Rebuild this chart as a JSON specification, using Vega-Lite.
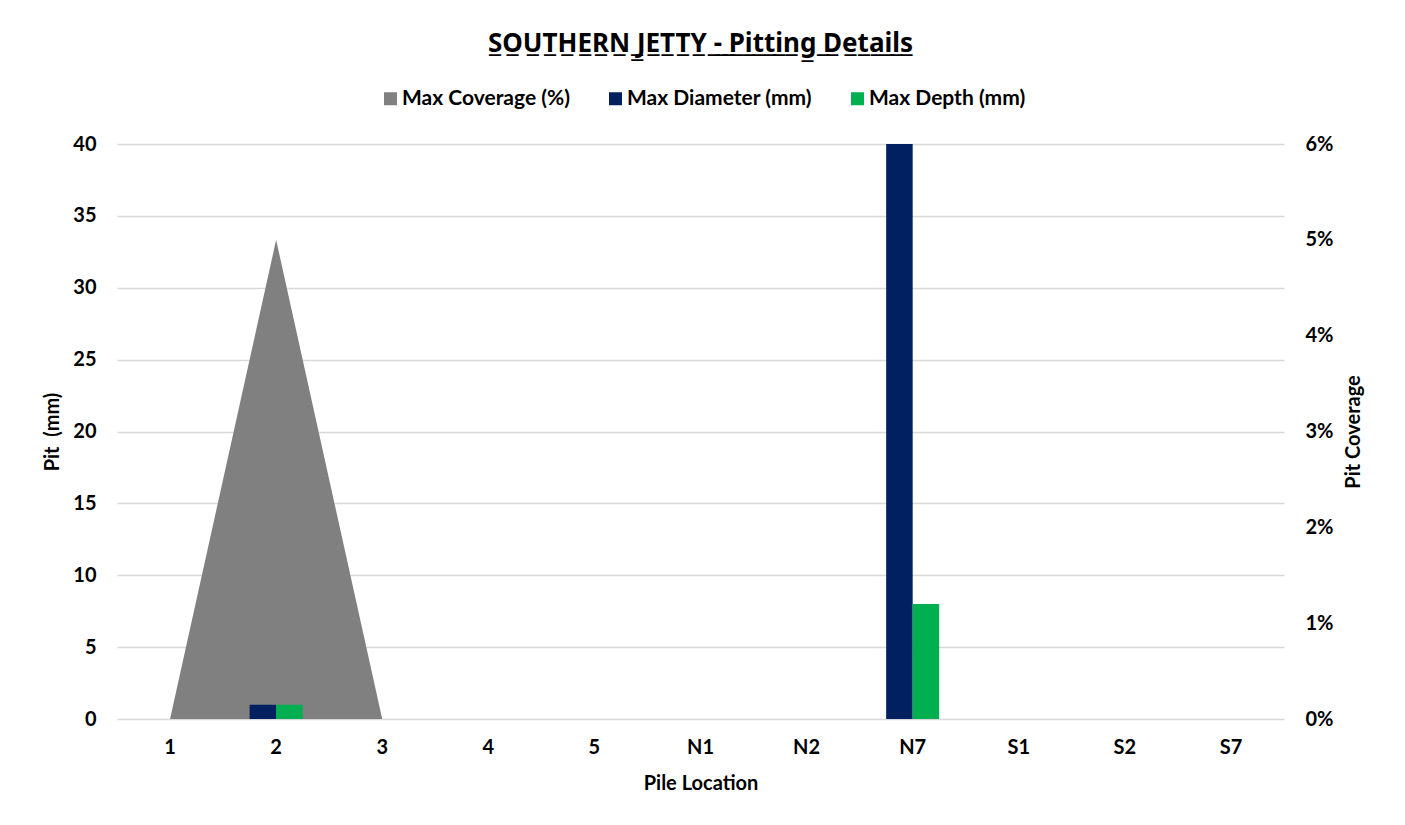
{
  "$schema": "https://vega.github.io/schema/vega-lite/v6.json",
  "width": 1167,
  "height": 575,
  "autosize": {"type": "none"},
  "padding": {"left": 117, "top": 144, "right": 121, "bottom": 106},
  "background": "white",
  "title": {
    "text": "S̲O̲U̲T̲H̲E̲R̲N̲ ̲J̲E̲T̲T̲Y̲ ̲-̲ ̲P̲i̲t̲t̲i̲n̲g̲ ̲D̲e̲t̲a̲i̲l̲s̲",
    "font": "Noto Sans",
    "fontSize": 26,
    "fontWeight": "bold",
    "color": "#000000",
    "anchor": "middle",
    "frame": "group",
    "offset": 31
  },
  "config": {
    "view": {"stroke": null},
    "font": "Lato",
    "axis": {
      "labelFont": "Lato",
      "labelFontSize": 20,
      "labelFontWeight": "bold",
      "labelColor": "#000000",
      "titleFont": "Lato",
      "titleFontSize": 20,
      "titleFontWeight": "bold",
      "titleColor": "#000000",
      "ticks": false,
      "domain": false,
      "gridColor": "#d9d9d9",
      "gridWidth": 1.5
    },
    "legend": {
      "labelFont": "Lato",
      "labelFontSize": 21,
      "labelFontWeight": "bold",
      "labelColor": "#000000",
      "labelLimit": 400,
      "symbolType": "square",
      "symbolSize": 169,
      "symbolStrokeWidth": 0
    }
  },
  "data": {
    "values": [
      {"pile": "1", "series": "Max Coverage (%)", "value": 0},
      {"pile": "2", "series": "Max Coverage (%)", "value": 0.05},
      {"pile": "3", "series": "Max Coverage (%)", "value": 0},
      {"pile": "4", "series": "Max Coverage (%)", "value": 0},
      {"pile": "5", "series": "Max Coverage (%)", "value": 0},
      {"pile": "N1", "series": "Max Coverage (%)", "value": 0},
      {"pile": "N2", "series": "Max Coverage (%)", "value": 0},
      {"pile": "N7", "series": "Max Coverage (%)", "value": 0},
      {"pile": "S1", "series": "Max Coverage (%)", "value": 0},
      {"pile": "S2", "series": "Max Coverage (%)", "value": 0},
      {"pile": "S7", "series": "Max Coverage (%)", "value": 0},
      {"pile": "1", "series": "Max Diameter (mm)", "value": 0},
      {"pile": "2", "series": "Max Diameter (mm)", "value": 1},
      {"pile": "3", "series": "Max Diameter (mm)", "value": 0},
      {"pile": "4", "series": "Max Diameter (mm)", "value": 0},
      {"pile": "5", "series": "Max Diameter (mm)", "value": 0},
      {"pile": "N1", "series": "Max Diameter (mm)", "value": 0},
      {"pile": "N2", "series": "Max Diameter (mm)", "value": 0},
      {"pile": "N7", "series": "Max Diameter (mm)", "value": 40},
      {"pile": "S1", "series": "Max Diameter (mm)", "value": 0},
      {"pile": "S2", "series": "Max Diameter (mm)", "value": 0},
      {"pile": "S7", "series": "Max Diameter (mm)", "value": 0},
      {"pile": "1", "series": "Max Depth (mm)", "value": 0},
      {"pile": "2", "series": "Max Depth (mm)", "value": 1},
      {"pile": "3", "series": "Max Depth (mm)", "value": 0},
      {"pile": "4", "series": "Max Depth (mm)", "value": 0},
      {"pile": "5", "series": "Max Depth (mm)", "value": 0},
      {"pile": "N1", "series": "Max Depth (mm)", "value": 0},
      {"pile": "N2", "series": "Max Depth (mm)", "value": 0},
      {"pile": "N7", "series": "Max Depth (mm)", "value": 8},
      {"pile": "S1", "series": "Max Depth (mm)", "value": 0},
      {"pile": "S2", "series": "Max Depth (mm)", "value": 0},
      {"pile": "S7", "series": "Max Depth (mm)", "value": 0}
    ]
  },
  "encoding": {
    "x": {
      "field": "pile",
      "type": "nominal",
      "sort": null,
      "scale": {"paddingInner": 0, "paddingOuter": 0},
      "axis": {
        "title": "Pile Location",
        "labelAngle": 0,
        "labelPadding": 18,
        "titlePadding": 16,
        "grid": false
      }
    }
  },
  "layer": [
    {
      "transform": [{"filter": "datum.series !== 'Max Coverage (%)'"}],
      "mark": {"type": "bar", "opacity": 0},
      "encoding": {
        "xOffset": {
          "field": "series",
          "type": "nominal",
          "scale": {
            "domain": ["Max Diameter (mm)", "Max Depth (mm)"],
            "paddingInner": 0,
            "paddingOuter": 1.12
          }
        },
        "y": {
          "field": "value",
          "type": "quantitative",
          "scale": {"domain": [0, 40]},
          "axis": {
            "orient": "left",
            "title": "Pit\u00a0 (mm)",
            "values": [0, 5, 10, 15, 20, 25, 30, 35, 40],
            "grid": true,
            "labelPadding": 21,
            "titlePadding": 10
          }
        }
      }
    },
    {
      "transform": [{"filter": "datum.series === 'Max Coverage (%)'"}],
      "mark": {"type": "area", "opacity": 1},
      "encoding": {
        "y": {
          "field": "value",
          "type": "quantitative",
          "scale": {"domain": [0, 0.06]},
          "axis": {
            "orient": "right",
            "title": "Pit Coverage",
            "titleAngle": -90,
            "format": ".0%",
            "values": [0, 0.01, 0.02, 0.03, 0.04, 0.05, 0.06],
            "grid": false,
            "labelPadding": 21,
            "titlePadding": 31
          }
        },
        "color": {
          "field": "series",
          "type": "nominal",
          "scale": {
            "domain": ["Max Coverage (%)", "Max Diameter (mm)", "Max Depth (mm)"],
            "range": ["#808080", "#002060", "#00b050"]
          },
          "legend": {
            "title": null,
            "orient": "none",
            "direction": "horizontal",
            "legendX": 263,
            "legendY": -56,
            "columnPadding": 35,
            "labelOffset": 1
          }
        }
      }
    },
    {
      "transform": [{"filter": "datum.series !== 'Max Coverage (%)'"}],
      "mark": {"type": "bar"},
      "encoding": {
        "xOffset": {
          "field": "series",
          "type": "nominal",
          "scale": {
            "domain": ["Max Diameter (mm)", "Max Depth (mm)"],
            "paddingInner": 0,
            "paddingOuter": 1.12
          }
        },
        "y": {
          "field": "value",
          "type": "quantitative",
          "scale": {"domain": [0, 40]},
          "axis": null
        },
        "color": {"field": "series", "type": "nominal"}
      }
    }
  ],
  "resolve": {"scale": {"y": "independent"}, "axis": {"y": "independent"}}
}
